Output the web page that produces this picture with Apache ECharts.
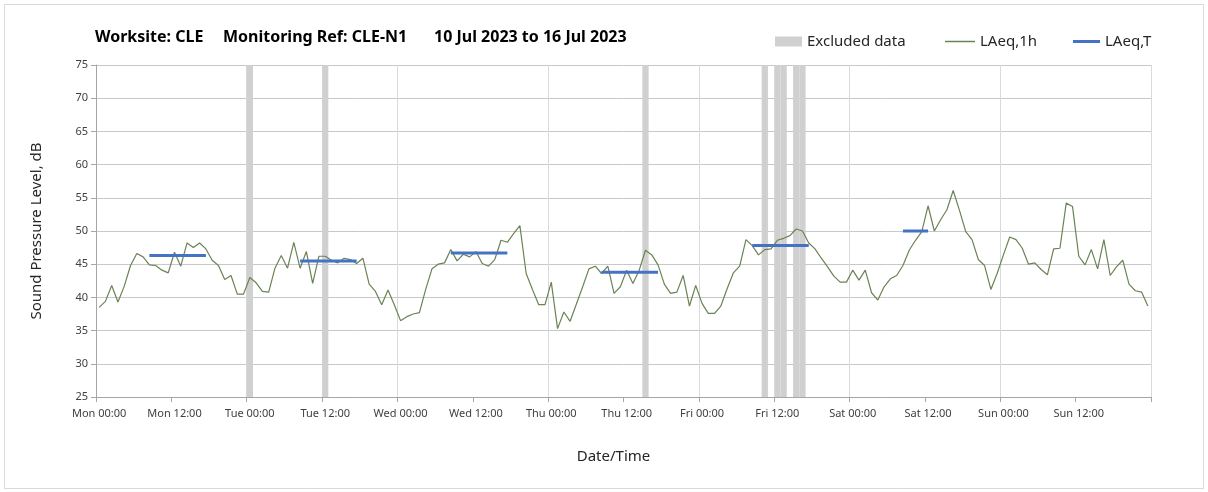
<!DOCTYPE html>
<html>
<head>
<meta charset="utf-8">
<script src="https://cdn.jsdelivr.net/npm/echarts@6/dist/echarts.min.js"></script>
<style>
html,body{margin:0;padding:0;background:#fff;}
#chart{width:1208px;height:492px;}
</style>
</head>
<body>
<div id="chart"></div>
<script>
// ---- data ----
const dayNames = ['Mon','Tue','Wed','Thu','Fri','Sat','Sun'];
const hourLabels = ['00:00','01:00','02:00','03:00','04:00','05:00','06:00','07:00','08:00','09:00','10:00','11:00',
                    '12:00','13:00','14:00','15:00','16:00','17:00','18:00','19:00','20:00','21:00','22:00','23:00'];

// LAeq,1h hourly values (Mon 00:00 .. Sun 23:00)
const laeq1hMon = [38.5,39.4,41.8,39.3,41.7,44.8,46.6,46.1,44.9,44.8,44.1,43.7,46.8,44.7,48.2,47.5,48.2,47.3,45.6,44.8,42.7,43.3,40.5,40.5];
const laeq1hTue = [43.0,42.2,40.9,40.8,44.4,46.3,44.4,48.3,44.4,46.9,42.1,46.2,46.2,45.6,45.2,45.9,45.7,45.1,45.9,42.0,40.9,38.9,41.1,38.9];
const laeq1hWed = [36.5,37.1,37.5,37.7,41.2,44.3,45.0,45.2,47.2,45.5,46.5,46.1,46.9,45.1,44.7,45.7,48.6,48.3,49.6,50.8,43.6,41.2,38.9,38.9];
const laeq1hThu = [42.3,35.3,37.8,36.4,39.0,41.6,44.3,44.7,43.6,44.7,40.6,41.6,44.1,42.1,44.1,47.1,46.4,44.9,42.0,40.6,40.8,43.3,38.7,41.8];
const laeq1hFri = [39.1,37.6,37.6,38.7,41.3,43.7,44.7,48.7,47.8,46.4,47.2,47.3,48.6,48.9,49.3,50.3,50.0,48.2,47.3,45.9,44.6,43.2,42.3,42.3];
const laeq1hSat = [44.1,42.6,44.1,40.7,39.6,41.6,42.8,43.3,44.8,47.1,48.6,49.9,53.8,50.0,51.7,53.2,56.1,53.1,49.9,48.7,45.7,44.8,41.2,43.6];
const laeq1hSun = [46.4,49.1,48.7,47.4,45.0,45.2,44.2,43.4,47.3,47.4,54.2,53.7,46.2,44.9,47.2,44.3,48.7,43.3,44.6,45.6,42.0,41.0,40.8,38.7];

// LAeq,T periods (hour index start/end) and levels
const laeqTStart = [8, 32, 56, 80, 104, 128];
const laeqTEnd   = [17, 41, 65, 89, 113, 132];
const laeqTValue = [46.3, 45.5, 46.7, 43.8, 47.8, 50.0];

// Excluded data hours (hour index from Mon 00:00)
const excludedHours = [24, 36, 87, 106, 108, 109, 111, 112];

// y axis ticks
const yMin = 25, yMax = 75, yStep = 5;

// title parts
const titleParts = ['Worksite: CLE', 'Monitoring Ref: CLE-N1', '10 Jul 2023 to 16 Jul 2023'];

// ---- build ----
const categories = [];
dayNames.forEach(d => hourLabels.forEach(h => categories.push(d + ' ' + h)));
const laeq1h = [].concat(laeq1hMon, laeq1hTue, laeq1hWed, laeq1hThu, laeq1hFri, laeq1hSat, laeq1hSun);
const laeqT = categories.map(() => null);
laeqTStart.forEach((s, k) => { for (let i = s; i <= laeqTEnd[k]; i++) laeqT[i] = laeqTValue[k]; });
const excluded = categories.map((c, i) => excludedHours.includes(i) ? yMax : null);

const FONT = 'Noto Sans';
const GREEN = '#6a8354';
const BLUE = '#4472c4';
const titleX = [95, 223, 434];
const chart = echarts.init(document.getElementById('chart'), null, {renderer: 'canvas'});
chart.setOption({
  animation: false,
  backgroundColor: '#ffffff',
  textStyle: {fontFamily: FONT},
  graphic: [
    {type: 'rect', shape: {x: 4.5, y: 4.5, width: 1199, height: 484}, style: {fill: 'none', stroke: '#d9d9d9', lineWidth: 1}, silent: true, z: -10}
  ].concat(titleParts.map((t, k) => ({
    type: 'text', left: titleX[k], top: 29,
    style: {text: t, font: 'bold 16px "Noto Sans"', fill: '#000000'}
  }))),
  legend: [
    {left: 775, top: 34, padding: 0, itemWidth: 27, itemHeight: 10, textStyle: {fontSize: 15, color: '#262626', fontFamily: FONT},
     data: [{name: 'Excluded data', icon: 'rect'}]},
    {left: 945, top: 34, padding: 0, itemWidth: 30, itemHeight: 1.5, textStyle: {fontSize: 15, color: '#262626', fontFamily: FONT},
     data: [{name: 'LAeq,1h', icon: 'rect'}]},
    {left: 1073, top: 34, padding: 0, itemWidth: 27, itemHeight: 3, textStyle: {fontSize: 15, color: '#262626', fontFamily: FONT},
     data: [{name: 'LAeq,T', icon: 'rect'}]}
  ],
  grid: {left: 96, right: 57, top: 65, bottom: 95, containLabel: false},
  xAxis: {
    type: 'category',
    data: categories,
    boundaryGap: true,
    name: 'Date/Time',
    nameLocation: 'middle',
    nameGap: 52,
    nameTextStyle: {fontSize: 15, color: '#262626', padding: [0, 20, 0, 0]},
    axisLine: {show: true, lineStyle: {color: '#a6a6a6', width: 1}},
    axisTick: {show: true, interval: 11, length: 5, lineStyle: {color: '#a6a6a6'}},
    axisLabel: {interval: 11, fontSize: 11, color: '#404040', margin: 11},
    splitLine: {show: true, interval: 23, lineStyle: {color: '#d9d9d9', width: 1}}
  },
  yAxis: {
    type: 'value',
    min: yMin, max: yMax, interval: yStep,
    name: 'Sound Pressure Level, dB',
    nameLocation: 'middle',
    nameGap: 52,
    nameTextStyle: {fontSize: 15, color: '#262626'},
    axisLine: {show: true, lineStyle: {color: '#a6a6a6', width: 1}},
    axisTick: {show: true, inside: false, length: 5, lineStyle: {color: '#a6a6a6'}},
    axisLabel: {fontSize: 11, color: '#404040', margin: 8},
    splitLine: {show: true, lineStyle: {color: '#c8c8c8', width: 1}}
  },
  series: [
    {name: 'Excluded data', type: 'bar', data: excluded, barWidth: '100%', barGap: '0%', barCategoryGap: '0%',
     itemStyle: {color: '#d0d0d0'}, z: 1, silent: true},
    {name: 'LAeq,1h', type: 'line', data: laeq1h, symbol: 'none', lineStyle: {color: GREEN, width: 1.2},
     itemStyle: {color: GREEN}, z: 3},
    {name: 'LAeq,T', type: 'line', data: laeqT, symbol: 'none', connectNulls: false,
     lineStyle: {color: BLUE, width: 3}, itemStyle: {color: BLUE}, z: 4}
  ]
});
</script>
</body>
</html>
